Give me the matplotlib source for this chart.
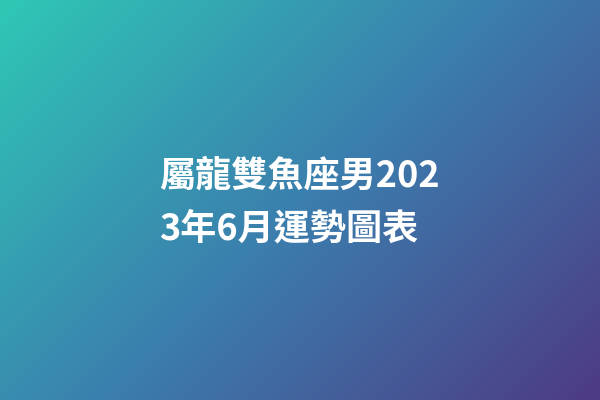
import matplotlib.pyplot as plt
import numpy as np

# =========================
# CONTENT
# =========================
title_lines = ["屬龍雙魚座男202", "3年6月運勢圖表"]
stop_pos = [0.0, 0.5, 1.0]
stop_colors = ["#2fc8b5", "#3b7fae", "#4e3a84"]

W, H = 600, 400

# =========================
# BACKGROUND GRADIENT
# =========================
xx, yy = np.meshgrid(np.arange(W), np.arange(H))
t = (xx + yy) / (W + H - 2)
rgb = np.array([[int(c[i:i + 2], 16) / 255 for i in (1, 3, 5)] for c in stop_colors])
img = np.zeros((H, W, 3))
for ch in range(3):
    img[..., ch] = np.interp(t, stop_pos, rgb[:, ch])

fig = plt.figure(figsize=(6, 4), dpi=100)
ax = fig.add_axes([0, 0, 1, 1])
ax.imshow(img, extent=[0, W, H, 0], aspect="auto")
ax.set_xlim(0, W)
ax.set_ylim(H, 0)
ax.axis("off")

# =========================
# TITLE TEXT
# =========================
for i, line in enumerate(title_lines):
    ax.text(159, 176 + i * 53, line, color="white", fontsize=26,
            fontweight="bold", ha="left", va="center",
            family=["Noto Sans CJK TC", "DejaVu Sans"])

fig.savefig("out.png", dpi=100)
